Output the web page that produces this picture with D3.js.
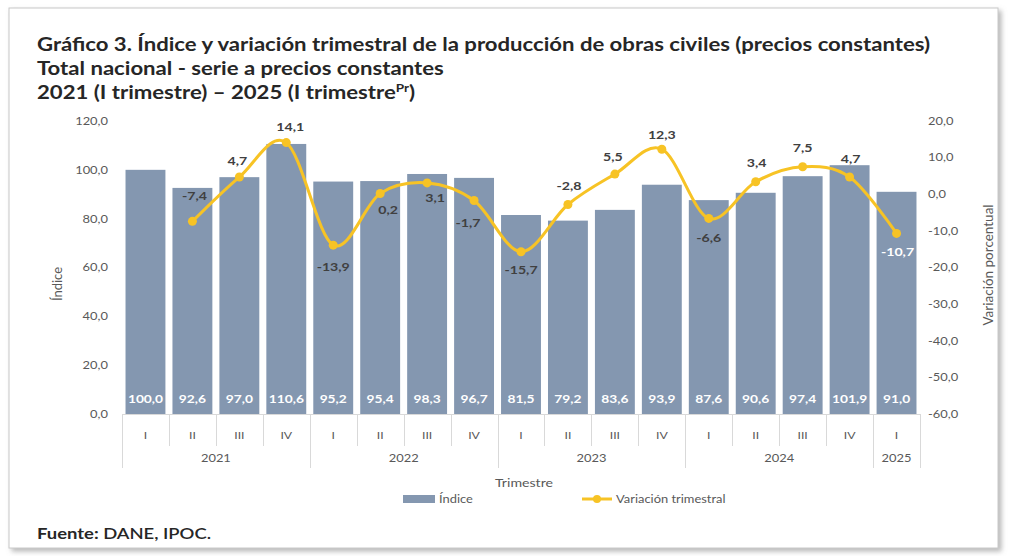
<!DOCTYPE html>
<html><head><meta charset="utf-8">
<script src="https://cdn.jsdelivr.net/npm/d3@7"></script>
<style>
body{margin:0;background:#fff}
svg{display:block;font-family:Lato,"Open Sans",sans-serif}
</style>
</head><body>
<svg id="c" width="1010" height="556"></svg>
<script>
// ---------- DATA ----------
const quarters = ["I","II","III","IV","I","II","III","IV","I","II","III","IV","I","II","III","IV","I"];
const yearOfQuarter = ["2021","2021","2021","2021","2022","2022","2022","2022","2023","2023","2023","2023","2024","2024","2024","2024","2025"];
const years = ["2021","2022","2023","2024","2025"];
const indice = [100.0,92.6,97.0,110.6,95.2,95.4,98.3,96.7,81.5,79.2,83.6,93.9,87.6,90.6,97.4,101.9,91.0];
const variacion = [null,-7.4,4.7,14.1,-13.9,0.2,3.1,-1.7,-15.7,-2.8,5.5,12.3,-6.6,3.4,7.5,4.7,-10.7];
const leftTicks = [0,20,40,60,80,100,120];
const rightTicks = [-60,-50,-40,-30,-20,-10,0,10,20];
const titleLines = [
  "Gráfico 3. Índice y variación trimestral de la producción de obras civiles (precios constantes)",
  "Total nacional - serie a precios constantes"
];

// ---------- SETUP ----------
const svg = d3.select("#c");
const fmt = v => d3.format(".1f")(v).replace(".", ",").replace("\u2212", "-");
const barColor = "#8497b0", lineColor = "#f7c325", axisTxt = "#595959", gridCol = "#d9d9d9";
const SX = 1.23; // horizontal stretch of the text in the reference

// frame with shadow
const defs = svg.append("defs");
const f = defs.append("filter").attr("id","sh").attr("x","-5%").attr("y","-5%").attr("width","110%").attr("height","110%");
f.append("feDropShadow").attr("dx",3).attr("dy",3).attr("stdDeviation",2.5).attr("flood-color","#888").attr("flood-opacity",0.6);
svg.append("rect").attr("x",9).attr("y",8).attr("width",989).attr("height",540)
  .attr("fill","#fff").attr("stroke","#c8c8c8").attr("stroke-width",1).attr("filter","url(#sh)");

const x = d3.scaleBand().domain(d3.range(indice.length)).range([122,920]).paddingInner(0.15).paddingOuter(0.075);
const yL = d3.scaleLinear().domain([0,120]).range([414,121]);
const yR = d3.scaleLinear().domain([-60,20]).range([414,121]);
const cx = i => x(i) + x.bandwidth()/2;

// title
const tg = svg.append("g").attr("fill","#262626").attr("font-weight",700).attr("font-size",18);
tg.append("text").attr("class","st").attr("x",37).attr("y",51).text(titleLines[0]);
tg.append("text").attr("class","st").attr("x",37).attr("y",75).text(titleLines[1]);
const t3 = tg.append("text").attr("class","st").attr("x",37).attr("y",99);
t3.append("tspan").text("2021 (I trimestre) – 2025 (I trimestre");
t3.append("tspan").attr("font-size",11).attr("dy",-7).text("Pr");
t3.append("tspan").attr("dy",7).text(")");

// axes
const axL = svg.append("g").attr("transform","translate(122,0)")
  .call(d3.axisLeft(yL).tickValues(leftTicks).tickSize(0).tickPadding(14).tickFormat(fmt));
const axR = svg.append("g").attr("transform","translate(920,0)")
  .call(d3.axisRight(yR).tickValues(rightTicks).tickSize(0).tickPadding(8).tickFormat(fmt));
[axL,axR].forEach(a=>{ a.select(".domain").remove();
  a.selectAll("text").attr("class","st").attr("fill",axisTxt).attr("font-size",10.5).attr("font-family","Lato"); });

// axis titles
svg.append("text").attr("transform","translate(62,284) rotate(-90)").attr("text-anchor","middle")
  .attr("fill",axisTxt).attr("font-size",13).text("Índice");
svg.append("text").attr("transform","translate(993,265) rotate(-90)").attr("text-anchor","middle")
  .attr("fill",axisTxt).attr("font-size",13.5).text("Variación porcentual");

// bars
svg.append("g").selectAll("rect").data(indice).join("rect")
  .attr("x",(d,i)=>x(i)).attr("width",x.bandwidth())
  .attr("y",d=>yL(d)).attr("height",d=>yL(0)-yL(d)).attr("fill",barColor);
svg.append("g").selectAll("text").data(indice).join("text").attr("class","st")
  .attr("x",(d,i)=>cx(i)).attr("y",403).attr("text-anchor","middle")
  .attr("fill","#fff").attr("font-weight",700).attr("font-size",11.2).text(d=>fmt(d));

// category axis (multi-level)
const step = x.step(), x0 = x.range()[0];
const cat = svg.append("g").attr("stroke",gridCol).attr("stroke-width",1);
cat.append("line").attr("x1",x0).attr("x2",x0+step*indice.length).attr("y1",414.5).attr("y2",414.5);
d3.range(indice.length+1).forEach(i=>{
  const isYear = i===0 || i===indice.length || yearOfQuarter[i]!==yearOfQuarter[i-1];
  cat.append("line").attr("x1",Math.round(x0+i*step)+0.5).attr("x2",Math.round(x0+i*step)+0.5)
    .attr("y1",414).attr("y2",isYear?468:446);
});
svg.append("g").selectAll("text").data(quarters).join("text").attr("class","st")
  .attr("x",(d,i)=>cx(i)).attr("y",439).attr("text-anchor","middle")
  .attr("fill",axisTxt).attr("font-size",10).text(d=>d);
svg.append("g").selectAll("text").data(years).join("text").attr("class","st")
  .attr("x",yr=>{ const idx = yearOfQuarter.map((y,i)=>y===yr?i:-1).filter(i=>i>=0);
                 return (cx(idx[0])+cx(idx[idx.length-1]))/2; })
  .attr("y",462).attr("text-anchor","middle").attr("fill",axisTxt).attr("font-size",10.5).text(d=>d);
svg.append("text").attr("class","st").attr("x",524).attr("y",487).attr("text-anchor","middle")
  .attr("fill",axisTxt).attr("font-size",11.5).text("Trimestre");

// line
const pts = variacion.map((v,i)=>({v,i})).filter(d=>d.v!==null);
svg.append("path").datum(pts)
  .attr("d",d3.line().x(d=>cx(d.i)).y(d=>yR(d.v)).curve(d3.curveCatmullRom.alpha(0)))
  .attr("fill","none").attr("stroke",lineColor).attr("stroke-width",3);
svg.append("g").selectAll("circle").data(pts).join("circle")
  .attr("cx",d=>cx(d.i)).attr("cy",d=>yR(d.v)).attr("r",4.5).attr("fill",lineColor);

// line labels: placement per point
const place = {1:[2,-21],2:[-2,-12],3:[4,-12],4:[0,26],5:[8,20],6:[8,19],7:[-6,27],8:[0,22],
               9:[1,-15],10:[-2,-13],11:[0,-10],12:[0,24],13:[1,-15],14:[0,-15],15:[1,-14],16:[1,23]};
svg.append("g").selectAll("text").data(pts).join("text").attr("class","st")
  .attr("x",d=>cx(d.i)+place[d.i][0]).attr("y",d=>yR(d.v)+place[d.i][1]).attr("text-anchor","middle")
  .attr("fill",d=>d.i===16?"#fff":"#404040").attr("font-weight",700).attr("font-size",11.5)
  .text(d=>fmt(d.v));

// legend
const lg = svg.append("g");
lg.append("rect").attr("x",403).attr("y",495).attr("width",32).attr("height",8).attr("fill",barColor);
lg.append("text").attr("class","st").attr("x",439).attr("y",503).attr("fill",axisTxt).attr("font-size",10.5).text("Índice");
lg.append("line").attr("x1",582).attr("x2",612).attr("y1",499).attr("y2",499).attr("stroke",lineColor).attr("stroke-width",3);
lg.append("circle").attr("cx",597).attr("cy",499).attr("r",4).attr("fill",lineColor);
lg.append("text").attr("class","st").attr("x",616).attr("y",503).attr("fill",axisTxt).attr("font-size",10.5).text("Variación trimestral");

// source
const src = svg.append("text").attr("class","st").attr("x",37).attr("y",539).attr("fill","#262626").attr("font-size",15);
src.append("tspan").attr("font-weight",700).text("Fuente: ");
src.append("tspan").attr("font-weight",600).text("DANE, IPOC.");

// apply the horizontal stretch seen in the reference to horizontal texts
svg.selectAll("text.st").each(function(){
  const t = d3.select(this);
  const tx = +t.attr("x") || 0, ty = +t.attr("y") || 0;
  t.attr("x",0).attr("y",0).attr("transform",`translate(${tx},${ty}) scale(${SX},1)`);
});
</script>
</body></html>
